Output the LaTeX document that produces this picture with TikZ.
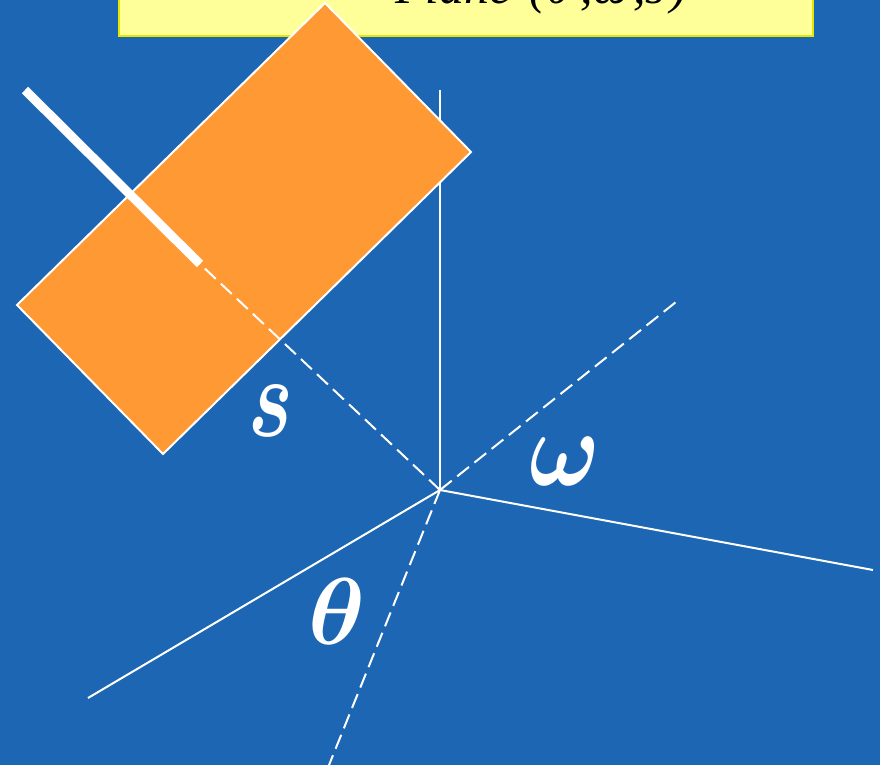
\documentclass[tikz,border=0pt]{standalone}
\usepackage{graphicx}
\usepackage{fontspec}
\setmainfont{Liberation Serif}
\definecolor{bgblue}{HTML}{1C66B4}
\definecolor{paneorange}{HTML}{FF9933}
\definecolor{titleyellow}{HTML}{FFFF99}
\definecolor{titleedge}{HTML}{E6E600}
\tikzset{
  thinline/.style={draw=white,line width=2pt},
  dashline/.style={draw=white,line width=2pt,dash pattern=on 15pt off 7pt},
  greek/.style={text=white,inner sep=0pt,anchor=center},
}
\begin{document}
\begin{tikzpicture}[x=1pt,y=-1pt]
\useasboundingbox (0,0) rectangle (880,765);
\clip (0,0) rectangle (880,765);
\fill[bgblue] (0,0) rectangle (880,765);
\filldraw[fill=titleyellow,draw=titleedge,line width=1.5pt] (119,-20) rectangle (813,36);
\node[anchor=base west,inner sep=0pt,text=black,font=\fontsize{50}{50}\selectfont\itshape] (title) at (395,4) {Plane\hspace{5pt} (θ\hspace{10pt},ω\hspace{5pt},s\hspace{5pt})};
\coordinate (o) at (440,490);
\coordinate (top) at (440,90);
\coordinate (right) at (873,570);
\coordinate (left) at (88,698);
\coordinate (up) at (676,302);
\coordinate (down) at (325,775);
\coordinate (barA) at (25,90);
\coordinate (barB) at (200,264);
\draw[thinline] (o) -- (top);
\filldraw[fill=paneorange,draw=white,line width=2pt,line join=miter] (325,3) -- (471,152) -- (163,454) -- (17,305) -- cycle;
\draw[thinline] (o) -- (right);
\draw[thinline] (o) -- (left);
\draw[dashline] (o) -- (up);
\draw[dashline] (o) -- (down);
\draw[dashline] (o) -- (barB);
\draw[draw=white,line width=9pt] (barA) -- (barB);
\node[greek] (s) at (271,411) {\scalebox{8.4}[11.5]{\boldmath$s$}};
\node[greek] (w) at (565,461) {\scalebox{9.4}[10.8]{\boldmath$\omega$}};
\node[greek] (t) at (337,612) {\scalebox{9.6}[9.5]{\boldmath$\theta$}};
\end{tikzpicture}
\end{document}
